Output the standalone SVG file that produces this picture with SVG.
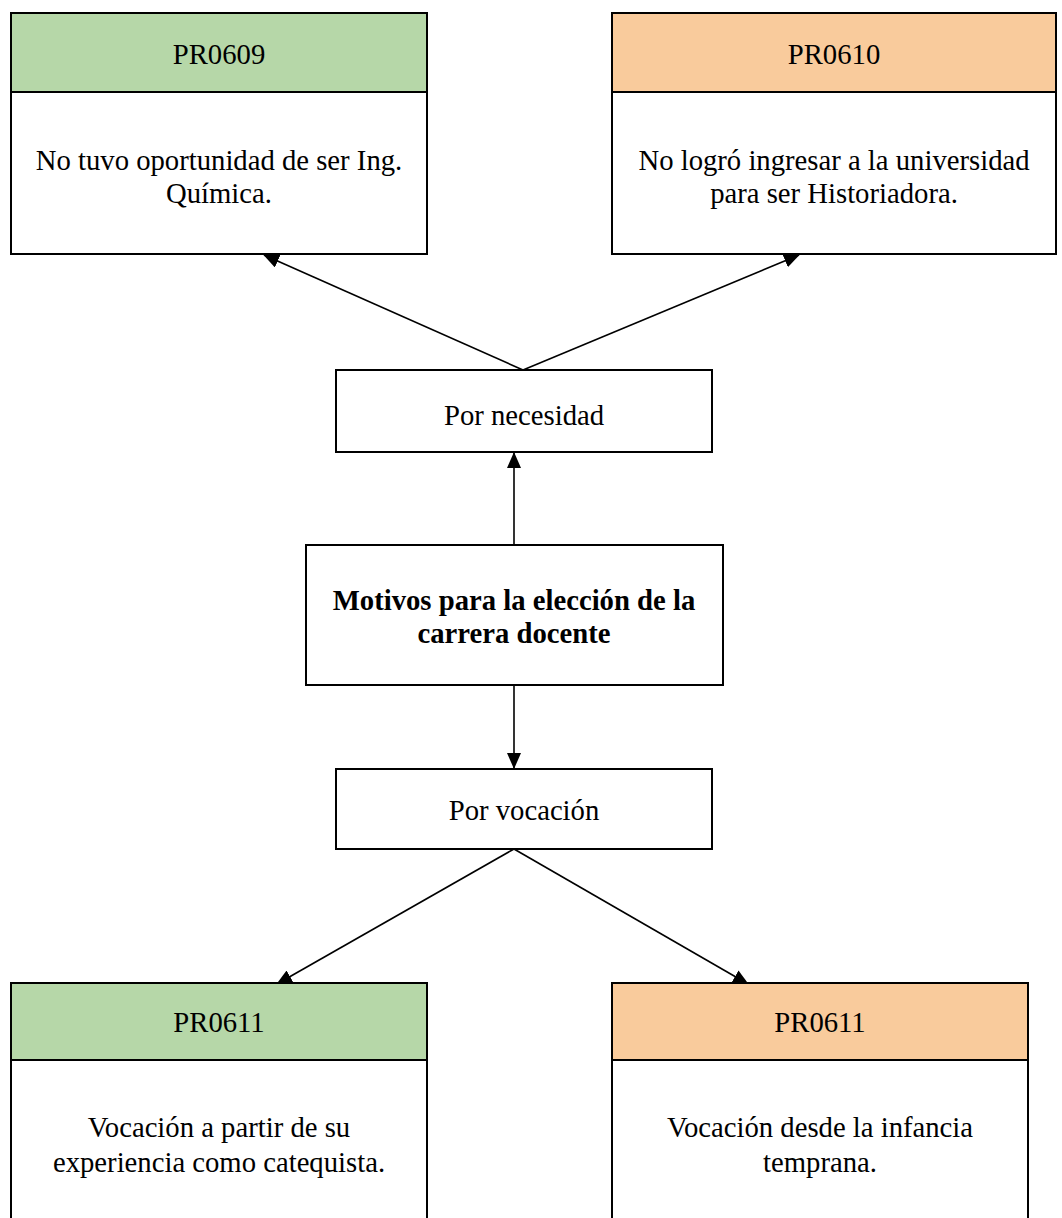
<svg xmlns="http://www.w3.org/2000/svg" width="1062" height="1218" viewBox="0 0 1062 1218">
  <style>
    .box { fill: #ffffff; stroke: #000000; stroke-width: 2; }
    .hdr-green { fill: #b6d7a8; stroke: #000000; stroke-width: 2; }
    .hdr-orange { fill: #f9cb9c; stroke: #000000; stroke-width: 2; }
    .edge { fill: none; stroke: #000000; stroke-width: 1.6; }
    text { font-family: "Liberation Serif", "Times New Roman", serif; font-size: 28.7px; fill: #000000; text-anchor: middle; }
    .bold { font-weight: bold; }
  </style>
  <defs>
    <marker id="arrow" markerUnits="userSpaceOnUse" markerWidth="16" markerHeight="14" refX="15" refY="7" orient="auto">
      <path d="M0,0 L16,7 L0,14 Z" fill="#000000"/>
    </marker>
  </defs>

  <rect width="1062" height="1218" fill="#ffffff"/>

  <!-- connectors -->
  <g id="connectors">
    <line class="edge" x1="523" y1="370" x2="264" y2="255" marker-end="url(#arrow)"/>
    <line class="edge" x1="523" y1="370" x2="799" y2="255" marker-end="url(#arrow)"/>
    <line class="edge" x1="514" y1="545" x2="514" y2="453" marker-end="url(#arrow)"/>
    <line class="edge" x1="514" y1="685" x2="514" y2="768" marker-end="url(#arrow)"/>
    <line class="edge" x1="514" y1="849" x2="277" y2="984" marker-end="url(#arrow)"/>
    <line class="edge" x1="514" y1="849" x2="748" y2="984" marker-end="url(#arrow)"/>
  </g>

  <!-- PR0609 -->
  <g id="pr0609">
    <rect class="box" x="11" y="13" width="416" height="241"/>
    <rect class="hdr-green" x="11" y="13" width="416" height="79"/>
    <text x="219" y="64">PR0609</text>
    <text x="219" y="170">No tuvo oportunidad de ser Ing.</text>
    <text x="219" y="203">Química.</text>
  </g>

  <!-- PR0610 -->
  <g id="pr0610">
    <rect class="box" x="612" y="13" width="444" height="241"/>
    <rect class="hdr-orange" x="612" y="13" width="444" height="79"/>
    <text x="834" y="64">PR0610</text>
    <text x="834" y="170">No logró ingresar a la universidad</text>
    <text x="834" y="203">para ser Historiadora.</text>
  </g>

  <!-- Por necesidad -->
  <g id="por-necesidad">
    <rect class="box" x="336" y="370" width="376" height="82"/>
    <text x="524" y="425">Por necesidad</text>
  </g>

  <!-- central topic -->
  <g id="motivos">
    <rect class="box" x="306" y="545" width="417" height="140"/>
    <text class="bold" x="514" y="610">Motivos para la elección de la</text>
    <text class="bold" x="514" y="643">carrera docente</text>
  </g>

  <!-- Por vocación -->
  <g id="por-vocacion">
    <rect class="box" x="336" y="769" width="376" height="80"/>
    <text x="524" y="820">Por vocación</text>
  </g>

  <!-- PR0611 (catequista) -->
  <g id="pr0611-a">
    <rect class="box" x="11" y="983" width="416" height="250"/>
    <rect class="hdr-green" x="11" y="983" width="416" height="77"/>
    <text x="219" y="1032">PR0611</text>
    <text x="219" y="1137">Vocación a partir de su</text>
    <text x="219" y="1172">experiencia como catequista.</text>
  </g>

  <!-- PR0611 (infancia) -->
  <g id="pr0611-b">
    <rect class="box" x="612" y="983" width="416" height="250"/>
    <rect class="hdr-orange" x="612" y="983" width="416" height="77"/>
    <text x="820" y="1032">PR0611</text>
    <text x="820" y="1137">Vocación desde la infancia</text>
    <text x="820" y="1172">temprana.</text>
  </g>
</svg>
